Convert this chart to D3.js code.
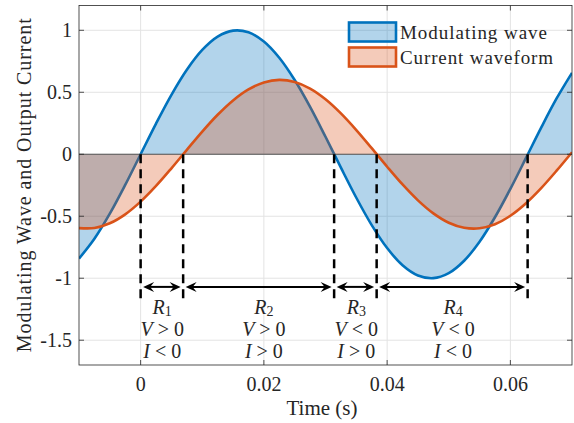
<!DOCTYPE html>
<html><head><meta charset="utf-8">
<script src="https://cdn.jsdelivr.net/npm/d3@7"></script>
<style>
body{margin:0;background:#fff}
text{font-family:"Liberation Serif","Times New Roman",serif;fill:#262626}
</style>
</head><body><svg id="c" width="574" height="423"></svg>
<script>
// ---- data ----
const time = [-0.01,-0.0075,-0.005,-0.0025,0,0.0025,0.005,0.0075,0.01,0.0125,0.015,0.0175,0.02,0.0225,0.025,0.0275,0.03,0.0325,0.035,0.0375,0.04,0.0425,0.045,0.0475,0.05,0.0525,0.055,0.0575,0.06,0.0625,0.065,0.0675,0.07];
const modulating = [-0.8415,-0.6816,-0.4794,-0.2474,0,0.2474,0.4794,0.6816,0.8415,0.9490,0.9975,0.9840,0.9093,0.7781,0.5985,0.3817,0.1411,-0.1082,-0.3508,-0.5716,-0.7568,-0.8950,-0.9775,-0.9993,-0.9589,-0.8589,-0.7055,-0.5082,-0.2794,-0.0332,0.2151,0.4500,0.6570];
const current = [-0.5957,-0.5949,-0.5570,-0.4845,-0.3819,-0.2555,-0.1133,0.0360,0.1830,0.3187,0.4346,0.5234,0.5797,0.6000,0.5829,0.5295,0.4434,0.3296,0.1953,0.0489,-0.1006,-0.2438,-0.3719,-0.4768,-0.5522,-0.5930,-0.5972,-0.5642,-0.4959,-0.3970,-0.2734,-0.1328,0.0161];
const xTicks = [0,0.02,0.04,0.06];
const xTickLabels = ["0","0.02","0.04","0.06"];
const yTicks = [1,0.5,0,-0.5,-1,-1.5];
const yTickLabels = ["1","0.5","0","-0.5","-1","-1.5"];
const boundaries = [0,0.0069,0.0314,0.0383,0.0628];
const regionIds = ["1","2","3","4"];
const regionLabelX = [0.0035,0.02,0.035,0.0507];
const voltageSigns = [">",">","<","<"];
const currentSigns = ["<",">",">","<"];
const seriesNames = ["Modulating wave","Current waveform"];
const seriesColors = ["#0072BD","#D95319"];

// ---- layout ----
const L=79,R=572,T=5.5,B=365;
const svg=d3.select("#c");
const x=d3.scaleLinear().domain([-0.01,0.07]).range([L,R]);
const y=d3.scaleLinear().domain([-1.7,1.2]).range([B,T]);
const pts=(vals)=>time.map((t,i)=>[t,vals[i]]);

// grid
const g=svg.append("g");
g.selectAll(".gx").data(xTicks).join("line")
  .attr("x1",d=>x(d)).attr("x2",d=>x(d)).attr("y1",T).attr("y2",B)
  .attr("stroke","#e3e3e3").attr("stroke-width",1);
g.selectAll(".gy").data(yTicks).join("line")
  .attr("y1",d=>y(d)).attr("y2",d=>y(d)).attr("x1",L).attr("x2",R)
  .attr("stroke","#e3e3e3").attr("stroke-width",1);

svg.append("clipPath").attr("id","pc").append("rect")
  .attr("x",L).attr("y",T).attr("width",R-L).attr("height",B-T);
const plot=svg.append("g").attr("clip-path","url(#pc)");

const area=d3.area().x(d=>x(d[0])).y0(y(0)).y1(d=>y(d[1])).curve(d3.curveCatmullRom);
const line=d3.line().x(d=>x(d[0])).y(d=>y(d[1])).curve(d3.curveCatmullRom);

plot.append("path").datum(pts(modulating)).attr("d",area)
  .attr("fill",seriesColors[0]).attr("fill-opacity",0.3);
plot.append("path").datum(pts(modulating)).attr("d",line)
  .attr("fill","none").attr("stroke",seriesColors[0]).attr("stroke-width",2.6);
plot.append("path").datum(pts(current)).attr("d",area)
  .attr("fill",seriesColors[1]).attr("fill-opacity",0.3);
plot.append("line").attr("x1",L).attr("x2",R).attr("y1",y(0)).attr("y2",y(0))
  .attr("stroke","#555").attr("stroke-width",1);
plot.append("path").datum(pts(current)).attr("d",line)
  .attr("fill","none").attr("stroke",seriesColors[1]).attr("stroke-width",2.6);

plot.selectAll(".dl").data(boundaries).join("line")
  .attr("x1",d=>x(d)).attr("x2",d=>x(d)).attr("y1",y(0)).attr("y2",y(-1.2))
  .attr("stroke","#000").attr("stroke-width",2.5).attr("stroke-dasharray","9,6");

// arrows
const ay=y(-1.07);
const head="M0,0 L-11,-5 L-7,0 L-11,5 Z";
for(let i=0;i<boundaries.length-1;i++){
  const x1=x(boundaries[i])+2.5, x2=x(boundaries[i+1])-2.5;
  svg.append("line").attr("x1",x1+5).attr("x2",x2-5).attr("y1",ay).attr("y2",ay)
    .attr("stroke","#000").attr("stroke-width",2);
  svg.append("path").attr("d",head).attr("fill","#000")
    .attr("transform",`translate(${x2},${ay})`);
  svg.append("path").attr("d",head).attr("fill","#000")
    .attr("transform",`translate(${x1},${ay}) rotate(180)`);
}

// region labels
const fs=20;
regionIds.forEach((id,i)=>{
  const cx=x(regionLabelX[i]);
  const t1=svg.append("text").attr("x",cx).attr("y",y(-1.23)).attr("text-anchor","middle")
    .attr("dominant-baseline","central").style("font-size",fs+"px");
  t1.append("tspan").style("font-style","italic").text("R");
  t1.append("tspan").style("font-size","14px").attr("dy",4).text(id);
  const t2=svg.append("text").attr("x",cx).attr("y",y(-1.41)).attr("text-anchor","middle")
    .attr("dominant-baseline","central").style("font-size",fs+"px");
  t2.append("tspan").style("font-style","italic").text("V");
  t2.append("tspan").text(" "+voltageSigns[i]+" 0");
  const t3=svg.append("text").attr("x",cx).attr("y",y(-1.59)).attr("text-anchor","middle")
    .attr("dominant-baseline","central").style("font-size",fs+"px");
  t3.append("tspan").style("font-style","italic").text("I");
  t3.append("tspan").text(" "+currentSigns[i]+" 0");
});

// axes box
const ax=svg.append("g").attr("stroke","#262626").attr("stroke-width",0.8).attr("fill","none");
ax.append("rect").attr("x",L).attr("y",T).attr("width",R-L).attr("height",B-T);
const tl=5;
xTicks.forEach(v=>{
  ax.append("line").attr("x1",x(v)).attr("x2",x(v)).attr("y1",B).attr("y2",B-tl);
  ax.append("line").attr("x1",x(v)).attr("x2",x(v)).attr("y1",T).attr("y2",T+tl);
});
yTicks.forEach(v=>{
  ax.append("line").attr("y1",y(v)).attr("y2",y(v)).attr("x1",L).attr("x2",L+tl);
  ax.append("line").attr("y1",y(v)).attr("y2",y(v)).attr("x1",R).attr("x2",R-tl);
});

// tick labels
svg.selectAll(".xt").data(xTicks).join("text")
  .attr("x",d=>x(d)).attr("y",384).attr("text-anchor","middle").attr("dominant-baseline","central")
  .style("font-size","20px").text((d,i)=>xTickLabels[i]);
svg.selectAll(".yt").data(yTicks).join("text")
  .attr("x",72).attr("y",d=>y(d)).attr("text-anchor","end").attr("dominant-baseline","central")
  .style("font-size","20px").text((d,i)=>yTickLabels[i]);

// axis titles
svg.append("text").attr("x",322).attr("y",408).attr("text-anchor","middle").attr("dominant-baseline","central")
  .style("font-size","21px").text("Time (s)");
svg.append("text").attr("transform",`translate(24,${(T+B)/2}) rotate(-90)`)
  .attr("text-anchor","middle").attr("dominant-baseline","central")
  .style("font-size","20px").attr("textLength",334).attr("lengthAdjust","spacing")
  .text("Modulating Wave and Output Current");

// legend
const leg=svg.append("g");
seriesNames.forEach((n,i)=>{
  const cy=32+25*i;
  leg.append("rect").attr("x",349).attr("y",cy-9.5).attr("width",47).attr("height",19)
    .attr("fill",seriesColors[i]).attr("fill-opacity",0.3)
    .attr("stroke",seriesColors[i]).attr("stroke-width",2.6);
  leg.append("text").attr("x",400).attr("y",cy).attr("dominant-baseline","central")
    .style("font-size","19px").attr("textLength",i===0?147:153).attr("lengthAdjust","spacing").text(n);
});
</script></body></html>
